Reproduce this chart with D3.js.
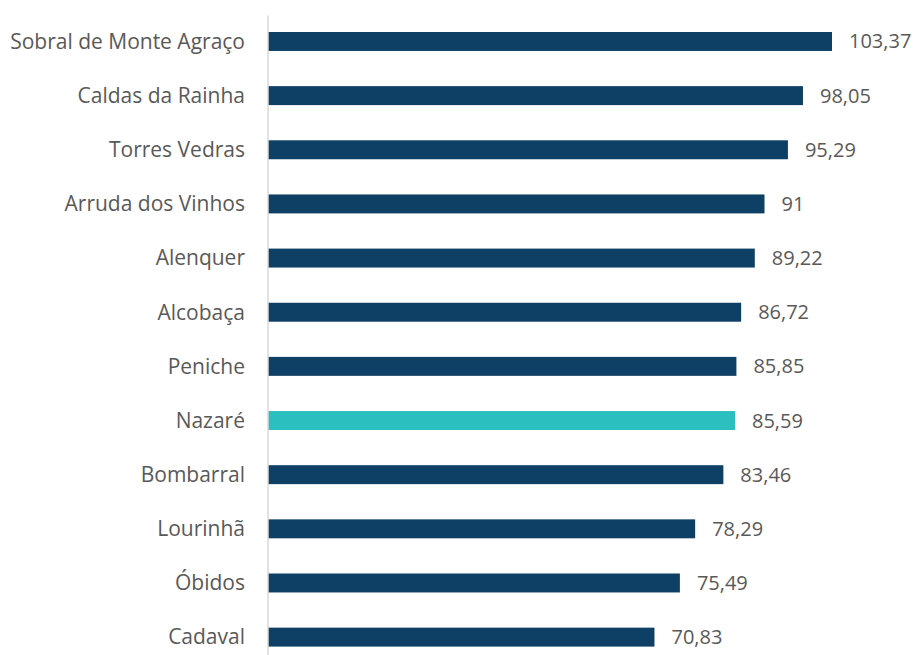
<!DOCTYPE html>
<html>
<head>
<meta charset="utf-8">
<script src="https://cdn.jsdelivr.net/npm/d3@7"></script>
<style>
  body { margin: 0; background: #fff; }
  text { font-family: "Open Sans", "Noto Sans", sans-serif; fill: #595959; }
</style>
</head>
<body>
<div id="chart"></div>
<script>
// Municipalities, sorted as in the source chart
const places = ["Sobral de Monte Agraço", "Caldas da Rainha", "Torres Vedras",
                "Arruda dos Vinhos", "Alenquer", "Alcobaça", "Peniche", "Nazaré",
                "Bombarral", "Lourinhã", "Óbidos", "Cadaval"];
const values = [103.37, 98.05, 95.29, 91, 89.22, 86.72, 85.85, 85.59,
                83.46, 78.29, 75.49, 70.83];
const highlight = "Nazaré";

const width = 916, height = 655;
const margin = { top: 14.4, left: 268, right: 84 };
const step = 54.15;

const svg = d3.select("#chart").append("svg")
  .attr("width", width)
  .attr("height", height);

const x = d3.scaleLinear()
  .domain([0, d3.max(values)])
  .range([margin.left, width - margin.right]);

const y = d3.scaleBand()
  .domain(places)
  .range([margin.top, margin.top + step * places.length])
  .paddingInner(0.65)
  .paddingOuter(0.325);

const fmt = v => String(v).replace(".", ",");

// bars
svg.selectAll("rect.bar")
  .data(places)
  .join("rect")
  .attr("class", "bar")
  .attr("x", x(0))
  .attr("y", d => y(d))
  .attr("width", (d, i) => x(values[i]) - x(0))
  .attr("height", y.bandwidth())
  .attr("fill", d => d === highlight ? "#2bbfbf" : "#0e4066");

// vertical axis line
svg.append("line")
  .attr("x1", x(0)).attr("x2", x(0))
  .attr("y1", margin.top + 1).attr("y2", height)
  .attr("stroke", "#d9d9d9")
  .attr("stroke-width", 1.5);

// category labels
svg.selectAll("text.cat")
  .data(places)
  .join("text")
  .attr("class", "cat")
  .attr("x", x(0) - 23)
  .attr("y", d => y(d) + y.bandwidth() / 2)
  .attr("dy", "0.35em")
  .attr("text-anchor", "end")
  .style("font-size", "21px")
  .text(d => d);

// value labels
svg.selectAll("text.val")
  .data(values)
  .join("text")
  .attr("class", "val")
  .attr("x", d => x(d) + 17)
  .attr("y", (d, i) => y(places[i]) + y.bandwidth() / 2)
  .attr("dy", "0.35em")
  .style("font-size", "20px")
  .text(d => fmt(d));
</script>
</body>
</html>
